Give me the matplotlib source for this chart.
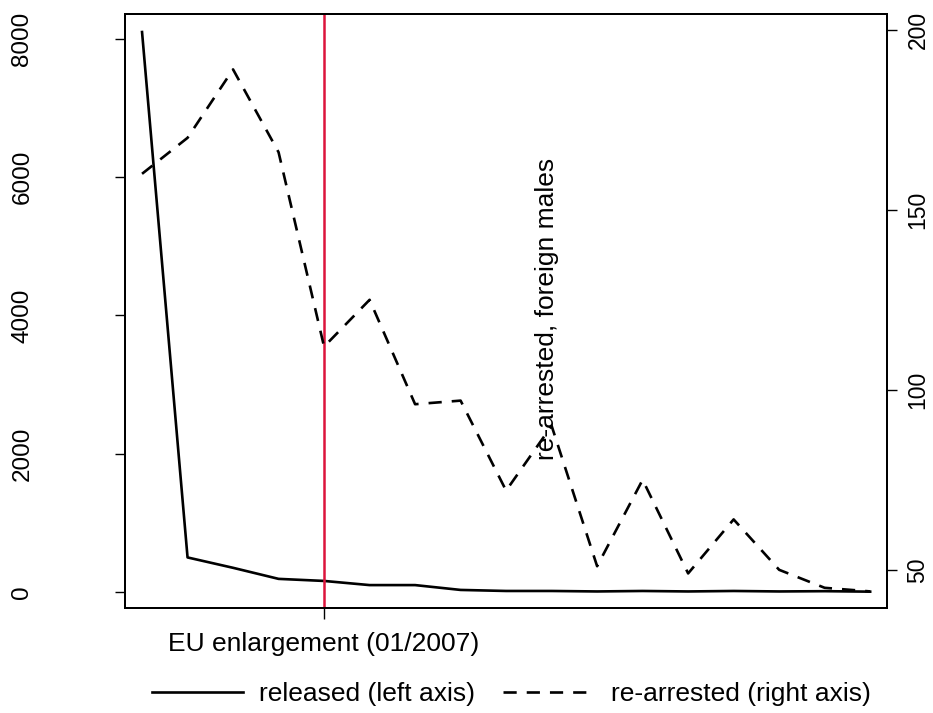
import matplotlib
matplotlib.use("Agg")
from matplotlib import pyplot as plt

plt.rcParams['font.family'] = ['Liberation Sans', 'DejaVu Sans']

# Series, one value per period
period = list(range(1, 18))
released = [8100, 500, 350, 190, 160, 100, 100, 30, 15, 15, 8, 15, 8, 15, 8, 12, 5]
rearrested = [160, 170, 189, 166, 112, 125, 96, 97, 72, 90, 51, 75, 49, 64, 50, 45, 44]

event_period = 5
event_label = 'EU enlargement (01/2007)'
left_ticks = [0, 2000, 4000, 6000, 8000]
right_ticks = [50, 100, 150, 200]

DASH = (5, 3.8)

fig = plt.figure(figsize=(9.33, 7.13), dpi=100)
ax = fig.add_axes([0.134, 0.1473, 0.8167, 0.8331])

ax.plot(period, released, color='black', lw=1.9, solid_joinstyle='round')
ax.axvline(event_period, color='#DC143C', lw=1.8)
ax.set_xlim(0.626, 17.37)
ax.set_ylim(-231, 8361)
ax.set_yticks(left_ticks)
ax.set_yticklabels([str(t) for t in left_ticks], rotation=90, va='center')
ax.tick_params(axis='y', length=7, width=1, labelsize=17.5, pad=59)
ax.set_xticks([event_period])
ax.set_xticklabels([event_label], fontsize=19)
ax.tick_params(axis='x', length=8, width=1, pad=9)

ax.text(9.9, 4100, 're-arrested, foreign males', rotation=90,
        ha='center', va='center', fontsize=19)

ax2 = ax.twinx()
ax2.plot(period, rearrested, color='black', lw=1.9, dashes=DASH)
ax2.set_ylim(39.4, 204.4)
ax2.set_yticks(right_ticks)
ax2.set_yticklabels([str(t) for t in right_ticks], rotation=90, va='center')
ax2.tick_params(axis='y', length=7, width=1, labelsize=16.5, pad=7)

for a in (ax, ax2):
    for sp in a.spines.values():
        sp.set_linewidth(1.4)

h1 = plt.Line2D([], [], color='black', lw=1.9)
h2 = plt.Line2D([], [], color='black', lw=1.9, dashes=DASH)
fig.legend([h1, h2], ['released (left axis)', 're-arrested (right axis)'],
           loc='center', bbox_to_anchor=(0.548, 0.027), ncol=2, frameon=False,
           fontsize=19, handlelength=3.45, handletextpad=0.64, columnspacing=1.05)

fig.savefig('out.png', dpi=100)
